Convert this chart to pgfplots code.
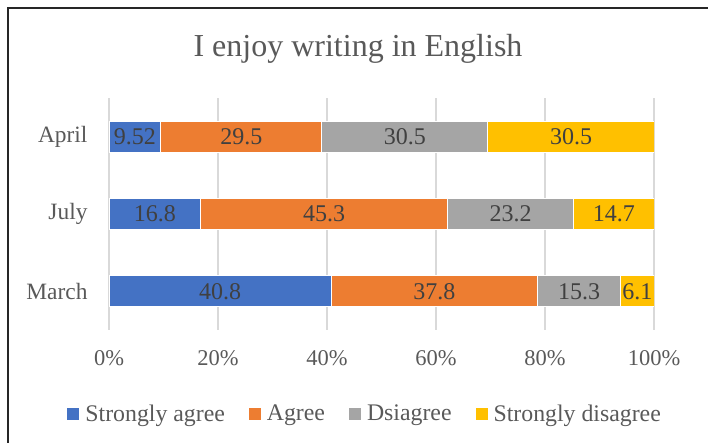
\documentclass[border=0pt]{standalone}
\usepackage{pgfplots}
\pgfplotsset{compat=1.18}
\usepackage{fontspec}
\setmainfont{Liberation Serif}
\definecolor{cBlue}{HTML}{4472C4}
\definecolor{cOrange}{HTML}{ED7D31}
\definecolor{cGray}{HTML}{A5A5A5}
\definecolor{cYellow}{HTML}{FFC000}
\definecolor{txt}{HTML}{595959}
\definecolor{lbl}{HTML}{404040}
\definecolor{grd}{HTML}{D9D9D9}
\begin{document}
\begin{tikzpicture}[x=1bp,y=1bp]
\path[use as bounding box] (0,0) rectangle (708,443);
\draw[black!85, line width=2.2bp] (8,-3) -- (8,435) -- (711,435);
\node[text=txt, font=\fontsize{32bp}{38bp}\selectfont] at (358,394) {I enjoy writing in English};
\begin{axis}[
  at={(109bp,113bp)}, anchor=south west,
  width=545bp, height=232bp, scale only axis,
  xmin=0, xmax=100, ymin=-0.5, ymax=2.5,
  xbar stacked, bar width=31bp,
  xtick={0,20,40,60,80,100},
  xticklabels={0\%,20\%,40\%,60\%,80\%,100\%},
  ytick={0,1,2}, yticklabels={March,July,April},
  xmajorgrids, grid style={grd, line width=1.5bp},
  axis line style={draw=none},
  major tick length=0pt, tick style={draw=none},
  xticklabel style={text=txt, font=\rmfamily\fontsize{22.5bp}{27bp}\selectfont, yshift=-17bp},
  yticklabel style={text=txt, font=\rmfamily\fontsize{23.4bp}{27bp}\selectfont, xshift=-18bp},
  legend columns=4,
  legend style={at={(0.47,-0.36)}, anchor=center, draw=none, fill=none,
    text=txt, font=\rmfamily\fontsize{23.8bp}{27bp}\selectfont,
    /tikz/every even column/.append style={column sep=22bp},
    /tikz/every odd column/.append style={column sep=4bp}},
  legend image code/.code={\fill[#1, draw=none] (0bp,-6bp) rectangle (12bp,6bp);},
  every axis plot/.append style={draw=white, line width=0.8bp},
]
\addplot[fill=cBlue] coordinates {(40.8,0) (16.8,1) (9.52,2)};
\addplot[fill=cOrange] coordinates {(37.8,0) (45.3,1) (29.5,2)};
\addplot[fill=cGray] coordinates {(15.3,0) (23.2,1) (30.5,2)};
\addplot[fill=cYellow] coordinates {(6.1,0) (14.7,1) (30.5,2)};
\legend{Strongly agree, Agree, Dsiagree, Strongly disagree}
\end{axis}
\begin{axis}[
  at={(109bp,113bp)}, anchor=south west,
  width=545bp, height=232bp, scale only axis,
  xmin=0, xmax=100, ymin=-0.5, ymax=2.5,
  hide axis,
]
\addplot[only marks, mark=none, nodes near coords, point meta=explicit symbolic,
  every node near coord/.append style={anchor=center, text=lbl, font=\rmfamily\fontsize{24bp}{28bp}\selectfont}]
  table[meta=label] {
x y label
4.76 2 9.52
24.27 2 29.5
54.27 2 30.5
84.77 2 30.5
8.4 1 16.8
39.45 1 45.3
73.7 1 23.2
92.65 1 14.7
20.4 0 40.8
59.7 0 37.8
86.25 0 15.3
96.95 0 6.1
};
\end{axis}
\end{tikzpicture}
\end{document}
